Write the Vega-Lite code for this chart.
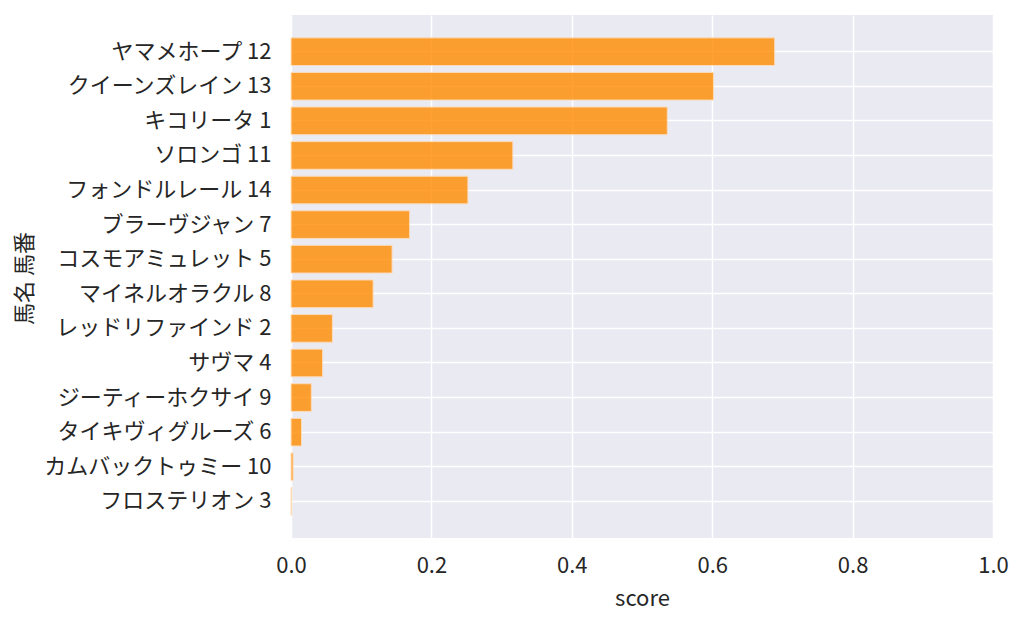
{
  "$schema": "https://vega.github.io/schema/vega-lite/v6.json",
  "width": 702,
  "height": 523,
  "autosize": "none",
  "padding": {"left": 291, "top": 15, "right": 31, "bottom": 89},
  "background": "white",
  "config": {
    "font": "Noto Sans CJK JP",
    "view": {"fill": "#EAEAF2", "stroke": null},
    "axis": {
      "domain": false,
      "ticks": false,
      "gridColor": "white",
      "gridWidth": 1.5,
      "labelColor": "#262626",
      "titleColor": "#262626",
      "labelFont": "Noto Sans CJK JP",
      "titleFont": "Noto Sans CJK JP",
      "titleFontWeight": "normal"
    }
  },
  "data": {
    "values": [
      {"horse": "ヤマメホープ 12", "score": 0.689},
      {"horse": "クイーンズレイン 13", "score": 0.602},
      {"horse": "キコリータ 1", "score": 0.536},
      {"horse": "ソロンゴ 11", "score": 0.316},
      {"horse": "フォンドルレール 14", "score": 0.252},
      {"horse": "ブラーヴジャン 7", "score": 0.169},
      {"horse": "コスモアミュレット 5", "score": 0.144},
      {"horse": "マイネルオラクル 8", "score": 0.117},
      {"horse": "レッドリファインド 2", "score": 0.059},
      {"horse": "サヴマ 4", "score": 0.045},
      {"horse": "ジーティーホクサイ 9", "score": 0.029},
      {"horse": "タイキヴィグルーズ 6", "score": 0.015},
      {"horse": "カムバックトゥミー 10", "score": 0.003},
      {"horse": "フロステリオン 3", "score": 0.001}
    ]
  },
  "mark": {
    "type": "bar",
    "color": "#FF8C00",
    "opacity": 0.8,
    "stroke": "#FFD9B0",
    "strokeWidth": 1
  },
  "encoding": {
    "y": {
      "field": "horse",
      "type": "nominal",
      "sort": null,
      "title": "馬名 馬番",
      "scale": {"paddingInner": 0.2, "paddingOuter": 0.66},
      "axis": {
        "grid": true,
        "bandPosition": 0.5,
        "labelFontSize": 22,
        "titleFontSize": 22,
        "labelPadding": 20,
        "labelLimit": 300,
        "titleAngle": -90,
        "titleX": -267,
        "titleY": 263,
        "titleAlign": "center",
        "titleBaseline": "middle"
      }
    },
    "x": {
      "field": "score",
      "type": "quantitative",
      "title": "score",
      "scale": {"domain": [0, 1], "nice": false},
      "axis": {
        "values": [0, 0.2, 0.4, 0.6, 0.8, 1.0],
        "format": ".1f",
        "grid": true,
        "labelFlush": false,
        "labelFontSize": 22,
        "titleFontSize": 22,
        "labelPadding": 17,
        "titlePadding": 12
      }
    }
  }
}
